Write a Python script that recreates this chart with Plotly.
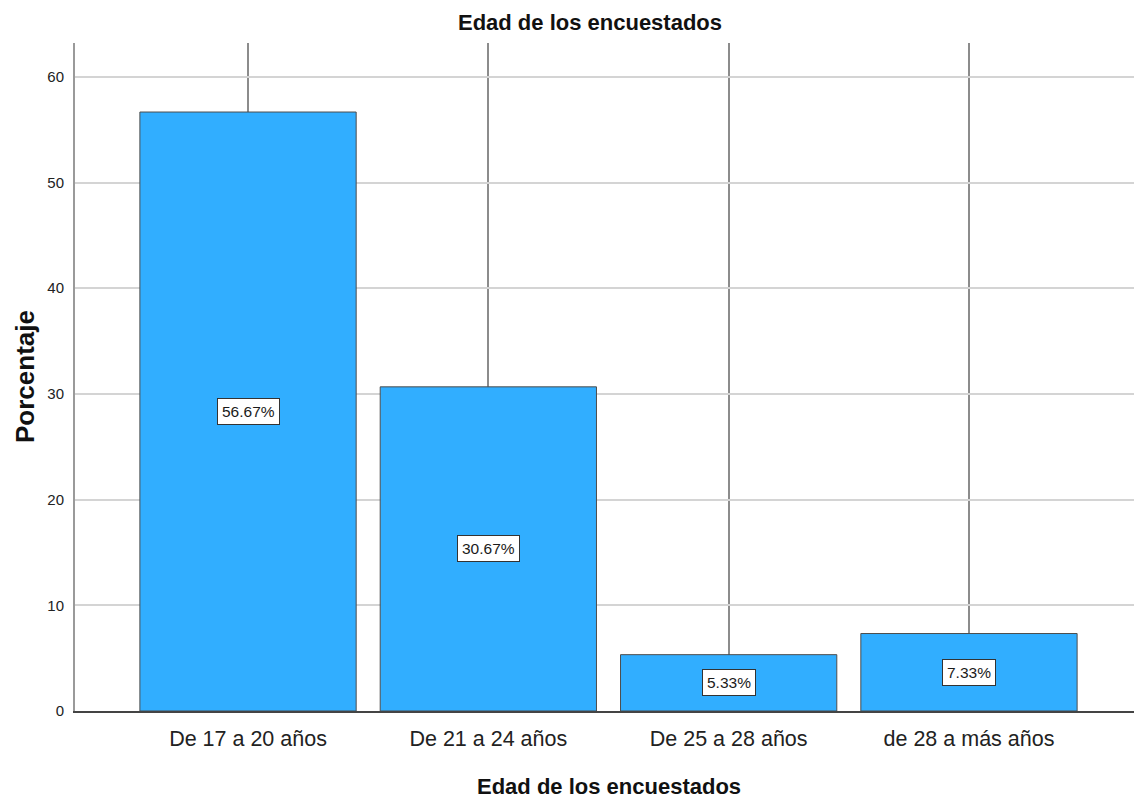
import plotly.graph_objects as go

categories = ["De 17 a 20 años", "De 21 a 24 años", "De 25 a 28 años", "de 28 a más años"]
percentages = [56.67, 30.67, 5.33, 7.33]
label_texts = ["56.67%", "30.67%", "5.33%", "7.33%"]
y_ticks = [0, 10, 20, 30, 40, 50, 60]
title_text = "Edad de los encuestados"
x_title = "Edad de los encuestados"
y_title = "Porcentaje"

SANS = "Liberation Sans, Arial, sans-serif"

# page body has an 8px margin; compensate so the chart lands where the reference has it
OFF = 8
W, H = 1142 - OFF, 806 - 2 * OFF

fig = go.Figure()
fig.add_trace(go.Bar(
    x=categories,
    y=percentages,
    width=0.9,
    marker=dict(color="#31aeff", line=dict(color="#4d4d4d", width=1)),
    hoverinfo="skip",
))

annotations = []
for c, v, t in zip(categories, percentages, label_texts):
    annotations.append(dict(
        x=c, y=v / 2, xref="x", yref="y", text=t, showarrow=False,
        font=dict(family=SANS, size=15.5, color="#1a1a1a"),
        bgcolor="white", bordercolor="#333333", borderwidth=1, borderpad=4,
    ))

annotations.append(dict(
    x=0.5, y=0, xref="paper", yref="paper", yshift=-75, yanchor="middle",
    text="<b>" + x_title + "</b>", showarrow=False,
    font=dict(family=SANS, size=22, color="#111111"),
))
annotations.append(dict(
    x=0, y=0.5, xref="paper", yref="paper", xshift=-50, xanchor="center", yanchor="middle",
    text="<b>" + y_title + "</b>", showarrow=False, textangle=-90,
    font=dict(family=SANS, size=26, color="#111111"),
))

fig.update_layout(
    width=W, height=H,
    margin=dict(l=75 - OFF, r=0, t=43 - OFF, b=(806 - OFF) - 711),
    paper_bgcolor="white", plot_bgcolor="white",
    showlegend=False,
    title=dict(text="<b>" + title_text + "</b>", x=(590 - OFF) / W, xanchor="center",
               y=1 - (22 - OFF) / H, yref="container", yanchor="middle",
               font=dict(family=SANS, size=22, color="#111111")),
    xaxis=dict(
        type="category", range=[-0.72, 3.72],
        showgrid=True, gridcolor="#8c8c8c", gridwidth=1.5,
        showline=True, linecolor="#444444", linewidth=1.5,
        ticks="", tickfont=dict(family=SANS, size=21.5, color="#222222"),
        zeroline=False, ticklabelstandoff=7,
    ),
    yaxis=dict(
        range=[0, 63.2], tickvals=y_ticks,
        showgrid=True, gridcolor="#d4d4d4", gridwidth=2,
        showline=True, linecolor="#9a9a9a", linewidth=2,
        ticks="", tickfont=dict(family=SANS, size=15, color="#222222"),
        zeroline=False, ticklabelstandoff=6,
    ),
    annotations=annotations,
)

fig.write_html("out.html")
